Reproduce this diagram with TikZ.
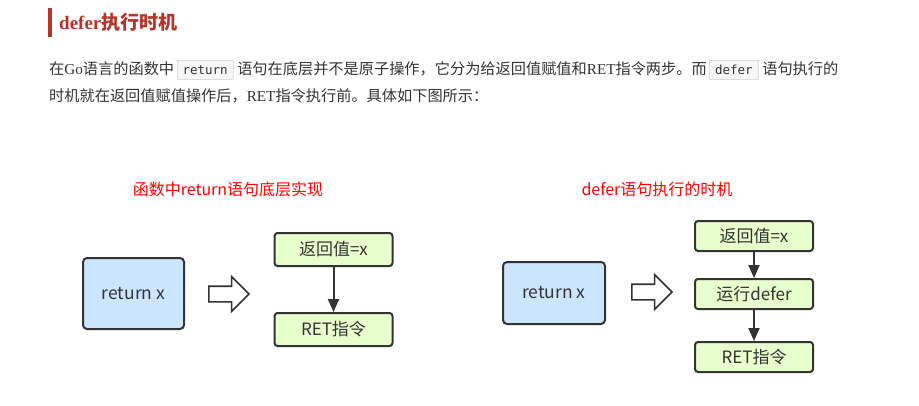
\documentclass[tikz,border=0pt]{standalone}
\usepackage{fontspec}
\setmainfont{Liberation Serif}
\setmonofont{DejaVu Sans Mono}
\newfontfamily\cjk{Noto Sans CJK SC}
\usetikzlibrary{positioning,arrows.meta,shapes.arrows}

\definecolor{headred}{HTML}{B5352A}
\definecolor{bodygray}{HTML}{333333}
\definecolor{codefill}{HTML}{F6F6F6}
\definecolor{codeline}{HTML}{DDDDDD}
\definecolor{boxline}{HTML}{333333}
\definecolor{bluefill}{HTML}{CCE5FF}
\definecolor{greenfill}{HTML}{E6FFCC}
\definecolor{titlered}{HTML}{FF0000}

\newcommand\zh[1]{{\cjk #1}}
\newcommand\codebox[1]{{\setlength\fboxsep{0pt}\setlength\fboxrule{0.8pt}%
  \fcolorbox{codeline}{codefill}{\rule[-5pt]{0pt}{18pt}\hspace{5pt}{\fontsize{12.5}{14}\ttfamily #1}\hspace{5pt}}}}

\tikzset{
  bluebox/.style={draw=boxline, fill=bluefill, line width=2pt, rounded corners=4pt,
    font=\cjk\fontsize{17.5}{19}\selectfont, text=bodygray},
  greenbox/.style={draw=boxline, fill=greenfill, line width=2pt, rounded corners=3pt,
    minimum width=118pt, font=\cjk\fontsize{17}{19}\selectfont, text=bodygray},
  hollowarrow/.style={single arrow, draw=boxline, fill=white, line width=1.6pt,
    inner xsep=0pt, inner ysep=7pt, minimum height=40pt,
    single arrow head extend=9.5pt, single arrow tip angle=90},
  flow/.style={draw=boxline, line width=2pt, -{Triangle[length=13pt,width=11pt]}},
  charttitle/.style={font=\cjk\fontsize{16}{18}\selectfont, text=titlered}
}

\begin{document}
\begin{tikzpicture}[x=1pt, y=-1pt]
	\useasboundingbox (0,0) rectangle (919,405);
	% heading
	\fill[headred] (48,8) rectangle (51.5,37);
	\node[anchor=base west, inner sep=0pt, text=headred, font=\fontsize{19}{21}\selectfont\bfseries] (head) at (59,29)
	{defer{\cjk\bfseries 执行时机}};
	% text
	\node[anchor=base west, inner sep=0pt, text=bodygray, font=\fontsize{15.2}{17}\selectfont] (line1) at (49,74)
	{\zh{在}Go\zh{语言的函数中}\,\codebox{return}\ \zh{语句在底层并不是原子操作，它分为给返回值赋值和}RET\zh{指令两步。而}\,\codebox{defer}\ \zh{语句执行的}};
	\node[anchor=base west, inner sep=0pt, text=bodygray, font=\fontsize{15.2}{17}\selectfont] (line2) at (49,101)
	{\zh{时机就在返回值赋值操作后，}RET\zh{指令执行前。具体如下图所示：}};

	% return
	\node[charttitle] (titleL) at (228,189) {函数中return语句底层实现};
	\node[bluebox, minimum width=101pt, minimum height=71pt] (retL) at (133.5,293.5) {return x};
	\node[hollowarrow] (arrL) at (225,294) {};
	\node[greenbox, minimum height=33pt] (valL) at (333.5,249.5) {返回值=x};
	\node[greenbox, minimum height=33pt, below=45pt of valL] (cmdL) {RET指令};
	\draw[flow] (valL) -- (cmdL);

	% defer
	\node[charttitle] (titleR) at (657,189) {defer语句执行的时机};
	\node[bluebox, minimum width=102pt, minimum height=62pt] (retR) at (554,293) {return x};
	\node[hollowarrow] (arrR) at (648,292) {};
	\node[greenbox, minimum height=30pt] (valR) at (754,236) {返回值=x};
	\node[greenbox, minimum height=30pt, below=26pt of valR] (deferR) {运行defer};
	\node[greenbox, minimum height=30pt, below=31pt of deferR] (cmdR) {RET指令};
	\draw[flow] (valR) -- (deferR);
	\draw[flow] (deferR) -- (cmdR);
\end{tikzpicture}
\end{document}
